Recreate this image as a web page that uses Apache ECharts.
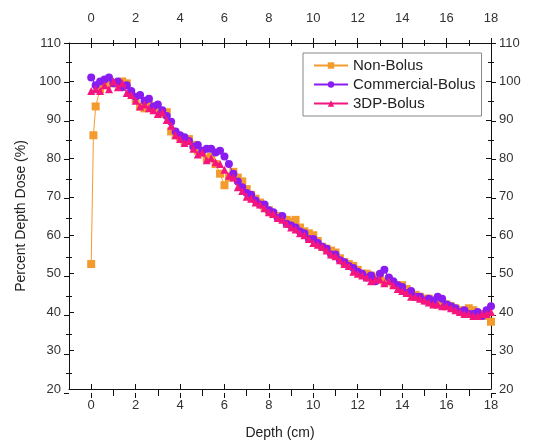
<!DOCTYPE html>
<html>
<head>
<meta charset="utf-8">
<script src="https://cdn.jsdelivr.net/npm/echarts@6/dist/echarts.min.js"></script>
<style>html,body{margin:0;padding:0;background:#fff}#c{width:554px;height:445px}</style>
</head>
<body>
<div id="c"></div>
<script>
// ---- data ----
const seriesNames = ['Non-Bolus', 'Commercial-Bolus', '3DP-Bolus'];
const depthNonBolus = [0,0.1,0.2,0.4,0.6,0.8,1,1.2,1.4,1.6,1.8,2,2.2,2.4,2.6,2.8,3,3.2,3.4,3.6,3.8,4,4.2,4.4,4.6,4.8,5,5.2,5.4,5.6,5.8,6,6.2,6.4,6.6,6.8,7,7.2,7.4,7.6,7.8,8,8.2,8.4,8.6,8.8,9,9.2,9.4,9.6,9.8,10,10.2,10.4,10.6,10.8,11,11.2,11.4,11.6,11.8,12,12.2,12.4,12.6,12.8,13,13.2,13.4,13.6,13.8,14,14.2,14.4,14.6,14.8,15,15.2,15.4,15.6,15.8,16,16.2,16.4,16.6,16.8,17,17.2,17.4,17.6,17.8,18];
const nonBolus = [52.5,86,93.5,
  98,99,100,99.5,99.5,100,99.5,97,
  95.5,93.5,93,94,93.5,92.5,91.5,92,87,86,
  85.5,84.5,85,83.5,82,81.5,80,80.5,78.5,76,
  73,75,76.5,75,74,72,70.5,69.5,68.5,67.5,
  66.5,65.5,65,64.5,64,63.5,64,62,61,60.5,
  60,58.5,57,56.5,56,55.5,54,53,52.5,52,
  51,50,50,49.5,49,49.5,48,48.5,47.5,47,
  47,46,45,44.5,44,43.5,43.5,42.5,42,42.5,
  42,41.5,41,40.5,40,41,40.5,39.5,39.5,39,
  37.5];
const depthBolus = [0,0.2,0.4,0.6,0.8,1,1.2,1.4,1.6,1.8,2,2.2,2.4,2.6,2.8,3,3.2,3.4,3.6,3.8,4,4.2,4.4,4.6,4.8,5,5.2,5.4,5.6,5.8,6,6.2,6.4,6.6,6.8,7,7.2,7.4,7.6,7.8,8,8.2,8.4,8.6,8.8,9,9.2,9.4,9.6,9.8,10,10.2,10.4,10.6,10.8,11,11.2,11.4,11.6,11.8,12,12.2,12.4,12.6,12.8,13,13.2,13.4,13.6,13.8,14,14.2,14.4,14.6,14.8,15,15.2,15.4,15.6,15.8,16,16.2,16.4,16.6,16.8,17,17.2,17.4,17.6,17.8,18];
const commercialBolus = [101,99,100,100.5,101,99.5,100,98.5,99,97.5,
  96,96.5,95,95.5,93.5,94,92.5,91,89.5,87,
  86,85.5,84.5,83,83.5,82,82.5,82.5,81.5,82,
  80.5,78.5,76,74,72.5,71,70.5,69,68,68,
  66.5,66,64.5,65,63,62.5,62,61,60.5,59,
  59,58,57,56.5,55,55,53.5,53,52,51.5,
  50.5,50,49,49.5,48,50,51,49,48,47,
  46.5,45,45.5,44,44,43,43.5,43,44,43.5,
  42,41.5,41,40,40.5,39.5,39.5,40,39,40.5,
  41.5];
const dp3Bolus = [97.5,98,97.5,99,98,100,98.5,99.5,97,96.5,
  95,93.5,94,93,92.5,91.5,92,90,88.5,86,
  85,84,84.5,82.5,81,81.5,79.5,80,79,78.5,
  77,75.5,75,72.5,71.5,70,69.5,68.5,68,67,
  66,65.5,64.5,64,63,62,61.5,60.5,60,59,
  58,57.5,57,56,55,54.5,53.5,52.5,52,50.5,
  50,49.5,49,48,48.5,48.5,47.5,48,47,46,
  45.5,45,44,44,43.5,43,42.5,42,42,41.5,
  41.5,41,40.5,40,39.5,39.5,39,39,39.5,39.5,
  40];
const xMajorTicks = [0,2,4,6,8,10,12,14,16,18];
const xMinorTicks = [1,3,5,7,9,11,13,15,17];
const yMajorTicks = [20,30,40,50,60,70,80,90,100,110];
const yMinorTicks = [25,35,45,55,65,75,85,95,105];

// ---- chart ----
const FONT = 'Liberation Sans, Arial, sans-serif';
const rect = {left: 69, right: 63, top: 43, bottom: 52};
const grids = [], xAxes = [], yAxes = [];
for (let g = 0; g < 4; g++) {
  grids.push(Object.assign({containLabel: false}, rect));
  const inside = g % 2 === 0;
  const major = g < 2;
  const tickX = major ? xMajorTicks : xMinorTicks;
  const tickY = major ? yMajorTicks : yMinorTicks;
  const len = major ? 5 : 3;
  ['bottom', 'top'].forEach(pos => {
    xAxes.push({
      gridIndex: g, type: 'value', position: pos, min: -1, max: 18,
      axisLine: {show: g === 0, onZero: false, lineStyle: {color: '#111', width: 1}},
      axisTick: {show: true, inside: inside, length: len, customValues: tickX, lineStyle: {color: '#111', width: 1}},
      axisLabel: {show: g === 0, customValues: xMajorTicks, color: '#333', fontFamily: FONT, fontSize: 13,
                  margin: pos === 'top' ? 18 : 10},
      splitLine: {show: false},
      name: (g === 0 && pos === 'bottom') ? 'Depth (cm)' : '',
      nameLocation: 'middle', nameGap: 37,
      nameTextStyle: {color: '#222', fontFamily: FONT, fontSize: 14}
    });
  });
  ['left', 'right'].forEach(pos => {
    yAxes.push({
      gridIndex: g, type: 'value', position: pos, min: 20, max: 110,
      axisLine: {show: g === 0, onZero: false, lineStyle: {color: '#111', width: 1}},
      axisTick: {show: true, inside: inside, length: len, customValues: tickY, lineStyle: {color: '#111', width: 1}},
      axisLabel: {show: g === 0, customValues: yMajorTicks, color: '#333', fontFamily: FONT, fontSize: 13, margin: 8},
      splitLine: {show: false},
      name: (g === 0 && pos === 'left') ? 'Percent Depth Dose (%)' : '',
      nameLocation: 'middle', nameGap: 36, nameRotate: 90,
      nameTextStyle: {color: '#222', fontFamily: FONT, fontSize: 14}
    });
  });
}

function pairs(xs, ys) { return xs.map((x, i) => [x, ys[i]]); }

const colors = ['#F39B2D', '#8A1CF2', '#F5157E'];
const symbols = ['rect', 'circle', 'triangle'];
const dataSets = [pairs(depthNonBolus, nonBolus), pairs(depthBolus, commercialBolus), pairs(depthBolus, dp3Bolus)];

const series = seriesNames.map((n, i) => ({
  name: n, type: 'line', xAxisIndex: 0, yAxisIndex: 0,
  data: dataSets[i], symbol: symbols[i], symbolSize: 8, showSymbol: true,
  color: colors[i],
  lineStyle: {width: 1, color: colors[i]},
  itemStyle: {color: colors[i]},
  animation: false, z: 2 + i
}));

const chart = echarts.init(document.getElementById('c'), null, {renderer: 'canvas'});
chart.setOption({
  animation: false,
  backgroundColor: '#fff',
  grid: grids, xAxis: xAxes, yAxis: yAxes,
  legend: {
    data: seriesNames, orient: 'vertical', left: 303, top: 53,
    backgroundColor: '#fff', borderColor: '#888', borderWidth: 1,
    padding: [5, 6, 5, 10], itemGap: 4, itemWidth: 34, itemHeight: 8,
    textStyle: {color: '#222', fontFamily: FONT, fontSize: 15}
  },
  series: series
});
</script>
</body>
</html>
